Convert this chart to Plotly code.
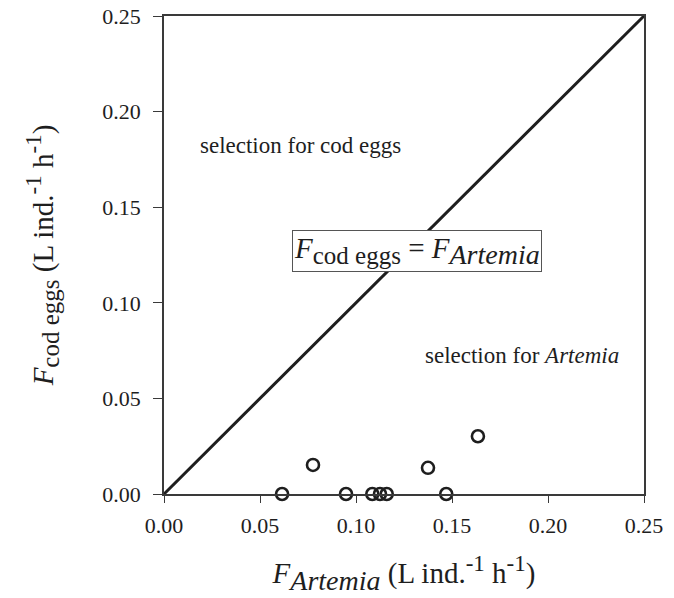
import plotly.graph_objects as go

# Data
f_artemia = [0.0615, 0.0776, 0.0948, 0.1085, 0.1125, 0.1160, 0.1375, 0.1470, 0.1635]
f_cod_eggs = [0.000, 0.0152, 0.000, 0.000, 0.000, 0.000, 0.0137, 0.000, 0.0302]
line_x = [0.0, 0.25]
line_y = [0.0, 0.25]
tick_vals = [0.00, 0.05, 0.10, 0.15, 0.20, 0.25]
tick_text = ["0.00", "0.05", "0.10", "0.15", "0.20", "0.25"]

FONT = "Liberation Serif, Times New Roman, serif"
INK = "#1e1e1e"

def sz(text, px):
    return f"<span style='font-size:{px}px'>{text}</span>"

x_title = ("<i>F<sub>" + sz("Artemia", 28) + "</sub></i> (L ind.<sup>" + sz("-1", 23)
           + "</sup> h<sup>" + sz("-1", 23) + "</sup>)")
y_title = ("<i>F</i><sub>" + sz("cod eggs", 25) + "</sub> (L ind.<sup>" + sz("-1", 23)
           + "</sup> h<sup>" + sz("-1", 23) + "</sup>)")
box_text = ("<i>F</i><sub>" + sz("cod eggs", 25) + "</sub> = <i>F<sub>"
            + sz("Artemia", 28) + "</sub></i>")

fig = go.Figure()
fig.add_trace(go.Scatter(x=line_x, y=line_y, mode="lines",
                         line=dict(color=INK, width=3),
                         showlegend=False, hoverinfo="skip"))
fig.add_trace(go.Scatter(x=f_artemia, y=f_cod_eggs, mode="markers",
                         marker=dict(symbol="circle-open", size=12, color=INK,
                                     line=dict(width=2.6, color=INK)),
                         cliponaxis=False, showlegend=False))

axis_common = dict(range=[0, 0.25], tickvals=tick_vals, ticktext=tick_text,
                   showline=True, linecolor="#3a3a3a", linewidth=1.5, mirror=True,
                   ticks="outside", tickcolor="#3a3a3a", tickwidth=1.3,
                   showgrid=False, zeroline=False, automargin=False,
                   tickfont=dict(family=FONT, size=22, color=INK))

fig.update_layout(
    width=674, height=598, autosize=False,
    margin=dict(l=164, r=30, t=16, b=104),
    paper_bgcolor="white", plot_bgcolor="white",
    font=dict(family=FONT, color=INK),
    xaxis=dict(**axis_common, ticklen=7, ticklabelstandoff=4,
               title=dict(text=x_title, font=dict(family=FONT, size=29, color=INK), standoff=26)),
    yaxis=dict(**axis_common, ticklen=9, ticklabelstandoff=8,
               title=dict(text=y_title, font=dict(family=FONT, size=29, color=INK), standoff=40)),
)

fig.add_annotation(x=0.0177, y=0.1825, xref="x", yref="y", xanchor="left", yanchor="middle",
                   text="selection for cod eggs", showarrow=False,
                   font=dict(family=FONT, size=23, color=INK))
fig.add_annotation(x=0.1349, y=0.0727, xref="x", yref="y", xanchor="left", yanchor="middle",
                   text="selection for <i>Artemia</i>", showarrow=False,
                   font=dict(family=FONT, size=23, color=INK))
fig.add_annotation(x=0.1320, y=0.1272, xref="x", yref="y", xanchor="center", yanchor="middle",
                   text=box_text, showarrow=False,
                   font=dict(family=FONT, size=29, color=INK),
                   bgcolor="white", bordercolor="#555555", borderwidth=1, borderpad=1)

fig.write_html("out.html", config={"displayModeBar": False},
               post_script="document.body.style.margin='0';")
